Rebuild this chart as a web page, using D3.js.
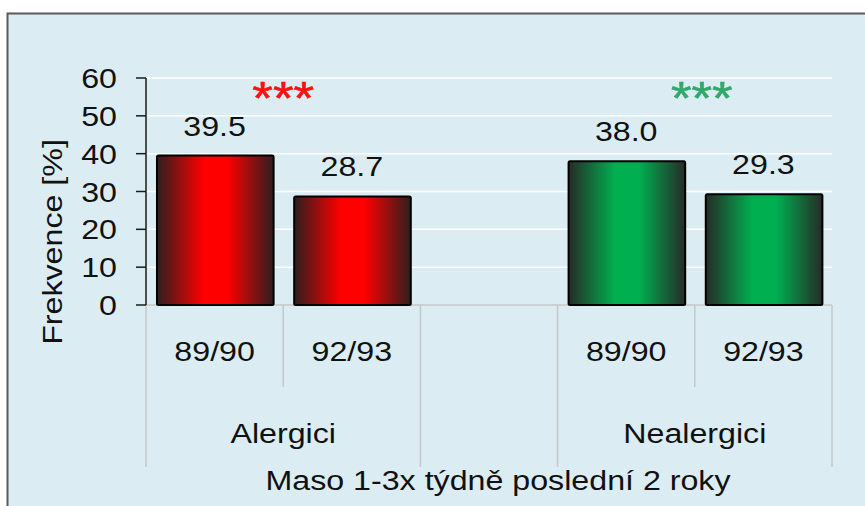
<!DOCTYPE html>
<html>
<meta charset="utf-8">
<style>
body {
  margin: 0;
  background: #fff;
}
text {
  font-family: "Liberation Sans", Arial, sans-serif;
  fill: #111;
}
</style>
<body>
<svg width="865" height="506"></svg>
<script src="https://cdn.jsdelivr.net/npm/d3@7"></script>
<script>

// data
var groups = ["Alergici", "Nealergici"];
var periods = ["89/90", "92/93"];
var alergici = [39.5, 28.7];
var nealergici = [38.0, 29.3];
var yTicks = [0, 10, 20, 30, 40, 50, 60];
var stars = ["***", "***"];
var yTitle = "Frekvence [%]";
var xTitle = "Maso 1-3x týdně poslední 2 roky";

var values = [alergici, nealergici];
var colors = [
  {mid: "#ff0000", edge: "#2e1e1e", star: "#ff1010"},
  {mid: "#00b050", edge: "#262b27", star: "#33a86a"}
];

// slots: group 0, empty gap, group 1
var slots = ["A0", "A1", "gap", "N0", "N1"];
var rows = [];
groups.forEach(function(g, gi) {
  periods.forEach(function(p, pi) {
    rows.push({group: gi, period: p, slot: (gi ? "N" : "A") + pi, value: values[gi][pi]});
  });
});

var svg = d3.select("svg"),
    left = 146, right = 832, plotTop = 78, base = 305;

var x = d3.scaleBand().domain(slots).range([left, right]).padding(0);
var y = d3.scaleLinear().domain([0, 60]).range([base, plotTop]);
var sx = 1.15; // text in the original is a bit wide

function label(sel, tx, ty, txt, size, anchor) {
  return sel.append("text")
      .attr("transform", "translate(" + tx + "," + ty + ") scale(" + sx + ",1)")
      .attr("text-anchor", anchor || "middle")
      .attr("font-size", size)
      .text(txt);
}

// frame
svg.append("rect")
    .attr("x", 7.5).attr("y", 13.5)
    .attr("width", 900).attr("height", 600)
    .attr("fill", "#dbedf3")
    .attr("stroke", "#5a5a5a")
    .attr("stroke-width", 2);

// gradients
var defs = svg.append("defs");
colors.forEach(function(c, i) {
  var gr = defs.append("linearGradient").attr("id", "grad" + i)
      .attr("x1", "0%").attr("x2", "100%").attr("y1", "0%").attr("y2", "0%");
  gr.append("stop").attr("offset", "0%").attr("stop-color", c.edge);
  gr.append("stop").attr("offset", "40%").attr("stop-color", c.mid);
  gr.append("stop").attr("offset", "60%").attr("stop-color", c.mid);
  gr.append("stop").attr("offset", "100%").attr("stop-color", c.edge);
});

// grid
svg.append("g").selectAll("line")
  .data(yTicks.filter(function(d) { return d > 0; }))
  .enter().append("line")
    .attr("x1", left).attr("x2", right)
    .attr("y1", function(d) { return y(d); })
    .attr("y2", function(d) { return y(d); })
    .attr("stroke", "#fff")
    .attr("stroke-width", 1.5);

// category separators
var bounds = slots.map(function(s) { return x(s); }).concat([right]);
svg.append("g").selectAll("line")
  .data(bounds)
  .enter().append("line")
    .attr("x1", function(d) { return d; })
    .attr("x2", function(d) { return d; })
    .attr("y1", base)
    .attr("y2", function(d, i) { return (i == 1 || i == 4) ? base + 82 : base + 162; })
    .attr("stroke", "#c4c8ca")
    .attr("stroke-width", 1.5);

svg.append("line")
    .attr("x1", left).attr("x2", right)
    .attr("y1", base).attr("y2", base)
    .attr("stroke", "#c4c8ca")
    .attr("stroke-width", 1.5);

// bars
var bw = x.bandwidth();
svg.append("g").selectAll("rect")
  .data(rows)
  .enter().append("rect")
    .attr("x", function(d) { return x(d.slot) + bw * 0.08; })
    .attr("width", bw * 0.85)
    .attr("y", function(d) { return y(d.value); })
    .attr("height", function(d) { return y(0) - y(d.value); })
    .attr("rx", 1.5)
    .attr("fill", function(d) { return "url(#grad" + d.group + ")"; })
    .attr("stroke", "#000")
    .attr("stroke-width", 2);

// value labels
rows.forEach(function(d) {
  label(svg, x(d.slot) + bw / 2, y(d.value) - 20, d.value.toFixed(1), 28);
  label(svg, x(d.slot) + bw / 2, base + 56, d.period, 28);
});

// group labels + stars
groups.forEach(function(g, gi) {
  var cx = x(gi ? "N1" : "A1");
  label(svg, cx, base + 138, g, 28);
  label(svg, cx + (gi ? 7 : 0), plotTop + 36, stars[gi], 46)
      .attr("stroke", colors[gi].star)
      .attr("stroke-width", 0.6)
      .style("fill", colors[gi].star);
});

// y axis
var yAxis = svg.append("g");
yAxis.append("line")
    .attr("x1", left).attr("x2", left)
    .attr("y1", plotTop).attr("y2", base)
    .attr("stroke", "#1a1a1a").attr("stroke-width", 1.5);
yTicks.forEach(function(t) {
  yAxis.append("line")
      .attr("x1", left - 10).attr("x2", left)
      .attr("y1", y(t)).attr("y2", y(t))
      .attr("stroke", "#1a1a1a").attr("stroke-width", 1.5);
  label(yAxis, 117, y(t) + 10, t, 28, "end");
});

// titles
svg.append("text")
    .attr("transform", "translate(62,242) rotate(-90) scale(" + sx + ",1)")
    .attr("text-anchor", "middle")
    .attr("font-size", 28)
    .text(yTitle);

label(svg, (left + right) / 2 + 9, 490, xTitle, 28);

</script>
</body>
</html>
